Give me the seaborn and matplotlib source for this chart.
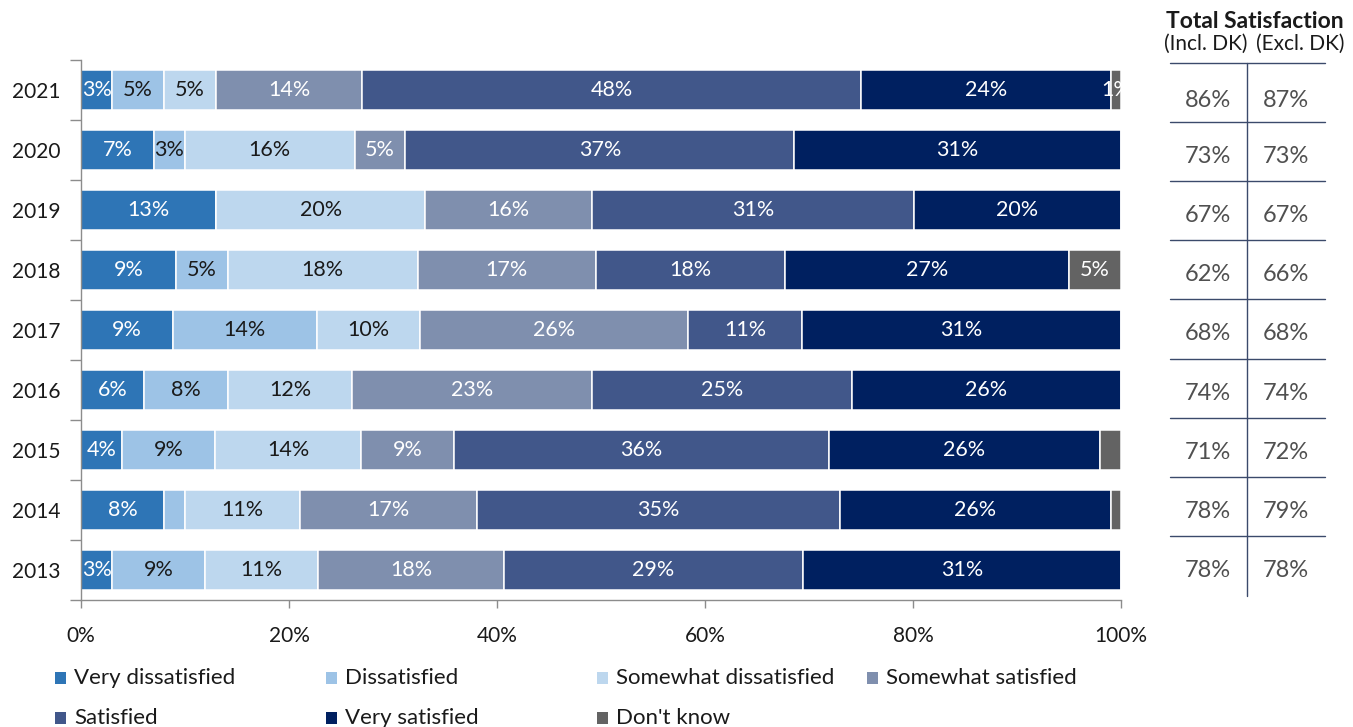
import matplotlib
matplotlib.use("Agg")
import matplotlib.pyplot as plt
from matplotlib.patches import Rectangle
from matplotlib.lines import Line2D
import seaborn as sns
import numpy as np

# ---------------- data ----------------
years = ["2021", "2020", "2019", "2018", "2017", "2016", "2015", "2014", "2013"]
very_dissatisfied = [3.0, 7.0, 13.0, 9.1, 8.8, 6.1, 3.9, 8.0, 3.0]
dissatisfied = [5.0, 3.0, 0.0, 5.0, 13.9, 8.0, 9.0, 2.0, 8.9]
somewhat_dissatisfied = [5.0, 16.3, 20.1, 18.3, 9.9, 12.0, 14.0, 11.1, 10.9]
somewhat_satisfied = [14.0, 4.9, 16.0, 17.1, 25.8, 23.0, 9.0, 17.0, 17.9]
satisfied = [48.0, 37.4, 31.0, 18.2, 10.9, 25.0, 36.0, 34.9, 28.7]
very_satisfied = [24.0, 31.4, 19.9, 27.3, 30.7, 25.9, 26.1, 26.0, 30.6]
dont_know = [1.0, 0.0, 0.0, 5.0, 0.0, 0.0, 2.0, 1.0, 0.0]

series_names = ["Very dissatisfied", "Dissatisfied", "Somewhat dissatisfied",
                "Somewhat satisfied", "Satisfied", "Very satisfied", "Don't know"]
series_values = [very_dissatisfied, dissatisfied, somewhat_dissatisfied,
                 somewhat_satisfied, satisfied, very_satisfied, dont_know]
hidden_labels = [("2015", "Don't know"), ("2014", "Dissatisfied"), ("2014", "Don't know")]

total_incl_dk = [86, 73, 67, 62, 68, 74, 71, 78, 78]
total_excl_dk = [87, 73, 67, 66, 68, 74, 72, 79, 78]

x_ticks = [0, 20, 40, 60, 80, 100]

# ---------------- style ----------------
colors = ["#2e75b6", "#9dc3e6", "#bdd7ee", "#7f8fae", "#41578a", "#002060", "#636363"]
label_colors = ["white", "#1a1a1a", "#1a1a1a", "white", "white", "white", "white"]

sns.set_theme(style="white")
plt.rcParams["font.family"] = ["Lato", "DejaVu Sans"]

W, H = 1353, 727
fig = plt.figure(figsize=(W / 100, H / 100), dpi=100)
ax = fig.add_axes([81 / W, 1 - 600 / H, 1040 / W, 540 / H])

left = np.zeros(len(years))
for name, vals, col, lcol in zip(series_names, series_values, colors, label_colors):
    vals = np.asarray(vals, dtype=float)
    sns.barplot(x=vals, y=years, order=years, orient="h", color=col, saturation=1,
                left=left, width=0.68, edgecolor="white", linewidth=1.1,
                errorbar=None, ax=ax)
    cont = ax.containers[-1]
    labels = []
    for yr, v in zip(years, vals):
        if v <= 0 or (yr, name) in hidden_labels:
            labels.append("")
        else:
            labels.append(f"{int(round(v))}%")
    ax.bar_label(cont, labels=labels, label_type="center", color=lcol,
                 fontsize=15.5, clip_on=True)
    left = left + vals

ax.set_xlim(0, 100)
ax.set_ylim(len(years) - 0.5, -0.5)
ax.set_xlabel("")
ax.set_ylabel("")
ax.set_xticks(x_ticks)
ax.set_xticklabels([f"{t}%" for t in x_ticks])
ax.set_yticks(range(len(years)))
ax.set_yticklabels(years)
ax.set_yticks(np.arange(-0.5, len(years)), minor=True)
ax.tick_params(axis="y", which="major", length=0, pad=15, labelsize=15, labelcolor="#1a1a1a")
ax.tick_params(axis="y", which="minor", length=8, width=1, color="#8c8c8c", direction="out", left=True)
ax.tick_params(axis="x", which="major", length=6, width=1, color="#8c8c8c", direction="out",
               bottom=True, pad=13, labelsize=15, labelcolor="#1a1a1a")
for s in ["top", "right"]:
    ax.spines[s].set_visible(False)
for s in ["left", "bottom"]:
    ax.spines[s].set_color("#8c8c8c")
    ax.spines[s].set_linewidth(1)

# ---------------- right table (figure pixel layout) ----------------
def fy(py):
    return 1 - py / H

line_col = "#3b4a6b"
x0, x1, xm = 1170 / W, 1325 / W, 1247 / W
row_top, row_h = 63, 59.1
n = len(years)
for k in range(n):
    y = fy(row_top + k * row_h)
    fig.add_artist(Line2D([x0, x1], [y, y], transform=fig.transFigure, color=line_col, lw=1))
fig.add_artist(Line2D([xm, xm], [fy(row_top), fy(596)], transform=fig.transFigure,
                      color=line_col, lw=1))
for i, (a, b) in enumerate(zip(total_incl_dk, total_excl_dk)):
    py = row_top + (i + 0.5) * row_h + (8 if i == 0 else 5)
    fig.text(1208 / W, fy(py), f"{a}%", ha="center", va="center",
             fontsize=17, color="#505050")
    fig.text(1286 / W, fy(py), f"{b}%", ha="center", va="center",
             fontsize=17, color="#505050")

fig.text(1255 / W, fy(22), "Total Satisfaction", ha="center", va="center",
         fontsize=16.5, fontweight="bold", color="#1a1a1a")
fig.text(1206 / W, fy(44), "(Incl. DK)", ha="center", va="center", fontsize=15, color="#1a1a1a")
fig.text(1300 / W, fy(44), "(Excl. DK)", ha="center", va="center", fontsize=15, color="#1a1a1a")

# ---------------- legend (manual, row-major, 4 columns) ----------------
col_x = [55, 326, 597, 867]
row_y = [678, 718]
for k, (name, col) in enumerate(zip(series_names, colors)):
    r, c = divmod(k, 4)
    sx, sy = col_x[c], row_y[r]
    fig.patches.append(Rectangle((sx / W, fy(sy + 6)), 11 / W, 12 / H,
                                 transform=fig.transFigure, facecolor=col, edgecolor="none"))
    fig.text((sx + 19) / W, fy(sy), name, ha="left", va="center",
             fontsize=16, color="#1a1a1a")

fig.savefig("out.png", dpi=100, facecolor="white")
